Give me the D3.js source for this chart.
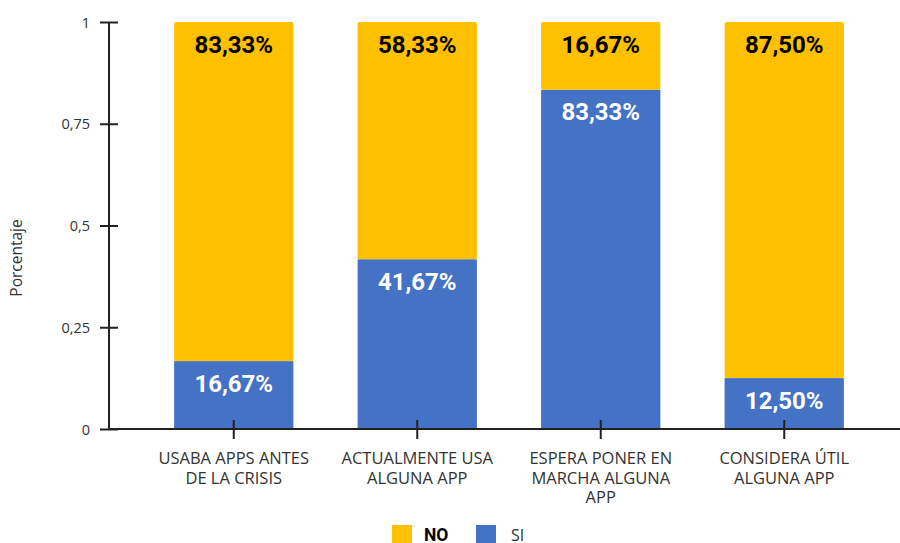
<!DOCTYPE html>
<html><head><meta charset="utf-8">
<script src="https://cdn.jsdelivr.net/npm/d3@7"></script>
<style>body{margin:0;background:#fff}svg{display:block}</style>
</head><body><svg id="c" width="900" height="543"></svg>
<script>
const categories = [["USABA APPS ANTES","DE LA CRISIS"],["ACTUALMENTE USA","ALGUNA APP"],["ESPERA PONER EN","MARCHA ALGUNA","APP"],["CONSIDERA ÚTIL","ALGUNA APP"]];
const siValues = [0.1667, 0.4167, 0.8333, 0.125];
const noValues = [0.8333, 0.5833, 0.1667, 0.875];
const siLabels = ["16,67%","41,67%","83,33%","12,50%"];
const noLabels = ["83,33%","58,33%","16,67%","87,50%"];
const yTicks = [0, 0.25, 0.5, 0.75, 1];
const yTickLabels = ["0","0,25","0,5","0,75","1"];
const seriesNames = ["NO","SI"];
const colors = {NO:"#FFC000", SI:"#4472C4"};

const svg = d3.select("#c");
const y = d3.scaleLinear().domain([0,1]).range([429,22]);
const x = d3.scaleBand().domain(d3.range(categories.length)).range([142,876]).paddingInner(0.35).paddingOuter(0.175);

const g = svg.append("g");
categories.forEach((c,i)=>{
  const x0 = x(i), w = x.bandwidth();
  g.append("rect").attr("x",x0).attr("y",y(siValues[i]+noValues[i])).attr("width",w)
   .attr("height",y(siValues[i])-y(siValues[i]+noValues[i])).attr("fill",colors.NO).attr("rx",2);
  g.append("rect").attr("x",x0).attr("y",y(siValues[i])).attr("width",w)
   .attr("height",y(0)-y(siValues[i])).attr("fill",colors.SI);
  g.append("text").attr("x",x0+w/2).attr("y",y(siValues[i]+noValues[i])+30.5).attr("text-anchor","middle")
   .attr("font-family","Roboto").attr("font-weight","bold").attr("font-size",24).attr("fill","#000").text(noLabels[i]);
  g.append("text").attr("x",x0+w/2).attr("y",y(siValues[i])+30.5).attr("text-anchor","middle")
   .attr("font-family","Roboto").attr("font-weight","bold").attr("font-size",24).attr("fill","#fff").text(siLabels[i]);
});

// y axis
const ya = svg.append("g").attr("transform","translate(109,0)")
  .call(d3.axisLeft(y).tickValues(yTicks).tickFormat((d,i)=>yTickLabels[i]).tickSize(9).tickPadding(10));
ya.select(".domain").remove();
ya.selectAll(".tick line").attr("x2",9).attr("x1",-9).attr("stroke","#222").attr("stroke-width",2);
ya.selectAll(".tick text").attr("font-family","Open Sans").attr("font-size",14.5).attr("fill","#333").attr("dy","0.35em").attr("x",-19);
svg.append("line").attr("x1",109).attr("x2",109).attr("y1",22).attr("y2",430).attr("stroke","#222").attr("stroke-width",2);

// x axis
svg.append("line").attr("x1",108).attr("x2",900).attr("y1",429).attr("y2",429).attr("stroke","#222").attr("stroke-width",2);
categories.forEach((c,i)=>{
  const cx = x(i)+x.bandwidth()/2;
  svg.append("line").attr("x1",cx).attr("x2",cx).attr("y1",420).attr("y2",439).attr("stroke","#222").attr("stroke-width",2);
  const t = svg.append("text").attr("text-anchor","middle").attr("font-family","Open Sans").attr("font-size",16.5).attr("fill","#333");
  c.forEach((line,j)=>t.append("tspan").attr("x",cx).attr("y",464+j*19.5).text(line));
});

// y title
svg.append("text").attr("transform","translate(22,258) rotate(-90)").attr("text-anchor","middle")
  .attr("font-family","Open Sans").attr("font-size",15.5).attr("fill","#333").text("Porcentaje");

// legend
const legX = [392, 476];
seriesNames.forEach((s,i)=>{
  svg.append("rect").attr("x",legX[i]).attr("y",525).attr("width",20).attr("height",20).attr("fill",colors[s]);
  svg.append("text").attr("x",legX[i]+(s==="NO"?32:35)).attr("y",541).attr("font-family",s==="NO"?"Roboto":"Open Sans")
    .attr("font-weight",s==="NO"?"bold":"normal").attr("font-size",s==="NO"?17.5:16).attr("fill",s==="NO"?"#000":"#333").text(s);
});
</script></body></html>
